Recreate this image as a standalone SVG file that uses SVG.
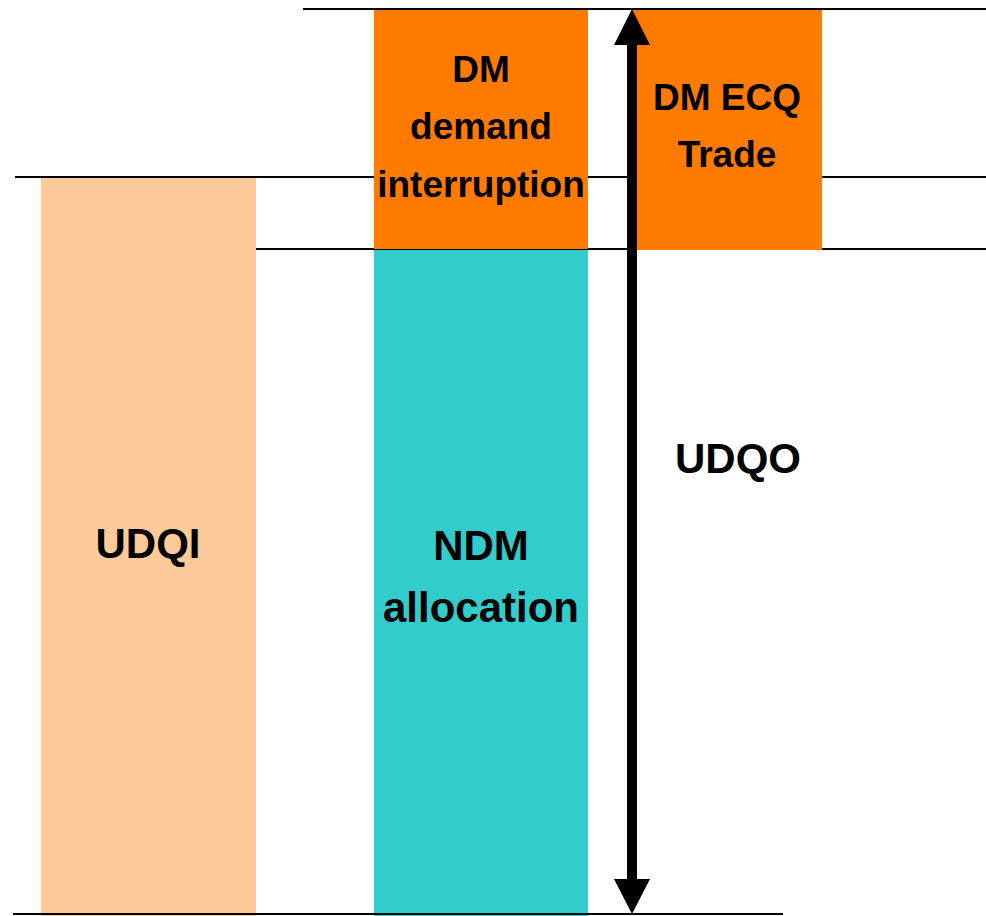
<svg xmlns="http://www.w3.org/2000/svg" width="986" height="916" viewBox="0 0 986 916">
<style>
.ln{stroke:#000;stroke-width:2;fill:none}
.t{font-family:"Liberation Sans",Arial,sans-serif;font-weight:bold;font-size:37px;fill:#000;text-anchor:middle}
.big{font-size:42px}
</style>
<rect width="986" height="916" fill="#fff"/>
<g id="lines">
<line class="ln" x1="303" y1="9" x2="986" y2="9"/>
<line class="ln" x1="15" y1="177" x2="986" y2="177"/>
<line class="ln" x1="256" y1="249" x2="986" y2="249"/>
</g>
<g id="udqi">
<rect x="41" y="178" width="215" height="738" fill="#FDCB9A"/>
<text class="t big" x="148" y="558">UDQI</text>
</g>
<g id="dm-demand">
<rect x="374" y="10" width="214" height="239" fill="#FF7B00"/>
<text class="t" x="481" y="82">DM</text>
<text class="t" x="481" y="139">demand</text>
<text class="t" x="481" y="197">interruption</text>
</g>
<g id="ndm">
<rect x="374" y="250" width="214" height="666" fill="#33CCCC"/>
<text class="t big" x="481" y="560">NDM</text>
<text class="t big" x="481" y="622">allocation</text>
</g>
<g id="dm-ecq">
<rect x="632" y="10" width="190" height="240" fill="#FF7B00"/>
<text class="t" x="727" y="110">DM ECQ</text>
<text class="t" x="727" y="167">Trade</text>
</g>
<g id="udqo">
<text class="t big" x="738" y="473">UDQO</text>
</g>
<g id="connectors">
<line class="ln" x1="13" y1="914" x2="783" y2="914"/>
<rect x="627" y="42" width="10" height="840" fill="#000"/>
<polygon points="632,9 650,45 614,45" fill="#000"/>
<polygon points="632,914 614,879 650,879" fill="#000"/>
</g>
</svg>
